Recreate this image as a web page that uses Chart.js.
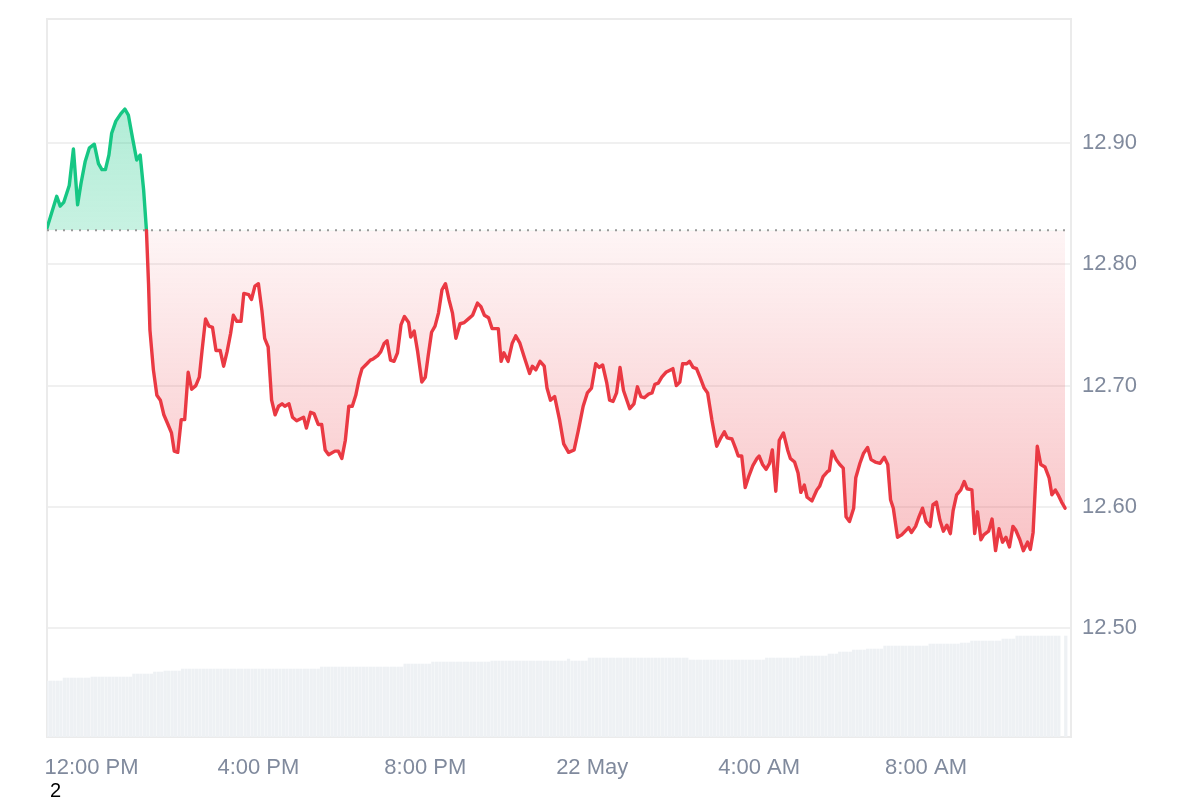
<!DOCTYPE html>
<html>
<head>
<meta charset="utf-8">
<script src="https://cdn.jsdelivr.net/npm/chart.js@4.4.1/dist/chart.umd.min.js"></script>
<style>
  html, body { margin: 0; padding: 0; background: #ffffff; overflow: hidden; }
  #wrap { position: relative; width: 1200px; height: 800px; }
  #c { display: block; }
  #note { position: absolute; left: 50px; top: 780px; font: 20px/20px "Liberation Sans", Arial, sans-serif; color: #000; }
</style>
</head>
<body>
<div id="wrap">
  <canvas id="c" width="1200" height="800"></canvas>
  <div id="note">2</div>
</div>
<script>
// ---- data (time in minutes since 21 May 00:00) ----
const startMinute = 656; // 10:56 AM, 21 May
const priceMinutes = [
  0,14,19,24,32,38,44,49,55,61,68,74,79,84,89,93,99,106,112,117,123,129,134,139,143,
  146,148,153,158,163,168,174,179,183,188,193,198,203,208,214,219,223,228,233,238,243,249,254,259,264,
  268,273,279,283,290,294,299,304,309,313,318,323,328,333,338,342,348,353,359,369,373,379,384,390,395,
  400,405,414,419,424,429,434,439,444,449,453,460,465,469,476,480,485,489,494,499,504,509,514,520,523,
  528,533,539,544,548,553,558,563,568,573,578,583,588,594,600,606,612,619,624,629,635,640,649,653,657,
  663,669,674,680,686,694,698,703,709,715,719,724,730,737,743,750,758,764,771,777,783,789,794,799,805,
  809,814,819,824,829,838,844,849,854,859,865,870,874,879,884,890,900,905,910,914,920,924,929,934,939,
  945,950,956,963,969,974,978,985,991,994,999,1004,1009,1015,1021,1024,1029,1034,1039,1043,1048,1053,1059,1065,1069,
  1075,1080,1084,1089,1093,1100,1107,1111,1116,1122,1125,1129,1135,1140,1145,1149,1154,1160,1163,1169,1174,1180,1185,1191,1198,
  1204,1209,1213,1217,1223,1229,1239,1243,1249,1254,1259,1264,1270,1274,1279,1284,1289,1294,1299,1303,1308,1314,1319,1323,1330,
  1334,1338,1343,1347,1354,1359,1364,1369,1374,1379,1384,1389,1393,1399,1404,1410,1414,1418,1424,1429,1435,1441,1445,1450,1454,
  1459,1464
];
const prices = [
  12.830,12.856,12.848,12.851,12.865,12.895,12.849,12.867,12.885,12.896,12.899,12.883,12.878,12.878,12.890,12.908,12.918,12.924,12.928,12.923,12.904,12.886,12.890,12.861,12.828,
  12.784,12.746,12.713,12.692,12.688,12.676,12.668,12.661,12.646,12.645,12.672,12.672,12.711,12.697,12.700,12.707,12.729,12.755,12.749,12.748,12.729,12.729,12.716,12.728,12.743,
  12.758,12.753,12.753,12.776,12.775,12.771,12.782,12.784,12.762,12.739,12.732,12.688,12.676,12.683,12.685,12.683,12.685,12.674,12.671,12.674,12.665,12.678,12.677,12.668,12.668,
  12.647,12.643,12.646,12.646,12.640,12.655,12.683,12.683,12.692,12.706,12.714,12.718,12.721,12.722,12.725,12.728,12.735,12.737,12.721,12.720,12.727,12.750,12.757,12.752,12.740,
  12.745,12.728,12.703,12.707,12.724,12.744,12.749,12.760,12.779,12.784,12.771,12.760,12.739,12.751,12.752,12.755,12.758,12.768,12.765,12.758,12.756,12.747,12.747,12.720,12.727,
  12.720,12.735,12.741,12.735,12.724,12.710,12.716,12.713,12.720,12.716,12.698,12.688,12.691,12.672,12.652,12.645,12.647,12.663,12.683,12.694,12.698,12.718,12.715,12.717,12.702,
  12.688,12.687,12.694,12.715,12.696,12.681,12.685,12.699,12.691,12.690,12.693,12.694,12.701,12.702,12.707,12.711,12.714,12.700,12.703,12.718,12.718,12.720,12.715,12.714,12.707,
  12.698,12.694,12.672,12.650,12.657,12.662,12.657,12.656,12.647,12.642,12.642,12.616,12.625,12.634,12.640,12.642,12.635,12.631,12.636,12.647,12.613,12.655,12.661,12.647,12.640,
  12.637,12.628,12.612,12.618,12.608,12.605,12.614,12.617,12.625,12.629,12.630,12.646,12.639,12.635,12.632,12.592,12.588,12.599,12.624,12.636,12.644,12.649,12.639,12.637,12.636,
  12.641,12.635,12.606,12.599,12.575,12.577,12.583,12.579,12.584,12.592,12.599,12.588,12.584,12.602,12.604,12.589,12.580,12.585,12.578,12.597,12.610,12.614,12.621,12.615,12.614,
  12.578,12.596,12.573,12.577,12.580,12.590,12.564,12.582,12.571,12.575,12.567,12.584,12.581,12.573,12.564,12.571,12.565,12.579,12.650,12.635,12.633,12.624,12.610,12.614,12.610,
  12.604,12.599
];
const baselinePrice = 12.828; // price 24h ago (dotted reference)
// 24h volume, one bar every 5 minutes from startMinute (millions)
const volumeStep = 5;
const volumes = [
  5.6,5.6,5.6,5.6,5.6,5.9,5.9,5.9,5.9,5.9,
  5.9,5.9,5.9,6.0,6.0,6.0,6.0,6.0,6.0,6.0,
  6.0,6.0,6.0,6.0,6.0,6.3,6.3,6.3,6.3,6.3,
  6.3,6.5,6.5,6.5,6.6,6.6,6.6,6.6,6.6,6.8,
  6.8,6.8,6.8,6.8,6.8,6.8,6.8,6.8,6.8,6.8,
  6.8,6.8,6.8,6.8,6.8,6.8,6.8,6.8,6.8,6.8,
  6.8,6.8,6.8,6.8,6.8,6.8,6.8,6.8,6.8,6.8,
  6.8,6.8,6.8,6.8,6.8,6.8,6.8,6.8,6.8,7.0,
  7.0,7.0,7.0,7.0,7.0,7.0,7.0,7.0,7.0,7.0,
  7.0,7.0,7.0,7.0,7.0,7.0,7.0,7.0,7.0,7.0,
  7.0,7.0,7.0,7.3,7.3,7.3,7.3,7.3,7.3,7.3,
  7.3,7.5,7.5,7.5,7.5,7.5,7.5,7.5,7.5,7.5,
  7.5,7.5,7.5,7.5,7.5,7.5,7.5,7.5,7.6,7.6,
  7.6,7.6,7.6,7.6,7.6,7.6,7.6,7.6,7.6,7.6,
  7.6,7.6,7.6,7.6,7.6,7.6,7.6,7.6,7.6,7.6,
  7.8,7.6,7.6,7.6,7.6,7.6,7.9,7.9,7.9,7.9,
  7.9,7.9,7.9,7.9,7.9,7.9,7.9,7.9,7.9,7.9,
  7.9,7.9,7.9,7.9,7.9,7.9,7.9,7.9,7.9,7.9,
  7.9,7.9,7.9,7.9,7.9,7.7,7.7,7.7,7.7,7.7,
  7.7,7.7,7.7,7.7,7.7,7.7,7.7,7.7,7.7,7.7,
  7.7,7.7,7.7,7.7,7.7,7.7,7.7,7.9,7.9,7.9,
  7.9,7.9,7.9,7.9,7.9,7.9,7.9,8.1,8.1,8.1,
  8.1,8.1,8.1,8.1,8.1,8.3,8.3,8.3,8.5,8.5,
  8.5,8.5,8.7,8.7,8.7,8.7,8.8,8.8,8.8,8.8,
  8.8,9.1,9.1,9.1,9.1,9.1,9.1,9.1,9.1,9.1,
  9.1,9.1,9.1,9.1,9.3,9.3,9.3,9.3,9.3,9.3,
  9.3,9.3,9.3,9.4,9.4,9.4,9.6,9.6,9.6,9.6,
  9.6,9.6,9.6,9.6,9.6,9.8,9.8,9.8,9.8,10.1,
  10.1,10.1,10.1,10.1,10.1,10.1,10.1,10.1,10.1,10.1,
  10.1,10.1,0,10.1
];
const xTickMinutes = [720, 960, 1200, 1440, 1680, 1920];
const xTickLabels = ['12:00 PM', '4:00 PM', '8:00 PM', '22 May', '4:00 AM', '8:00 AM'];
const priceTicks = [12.5, 12.6, 12.7, 12.8, 12.9];

// ---- styling ----
const GREEN = '#16c784';
const RED = '#ea3943';
const LABEL = '#808a9d';
const FONT = '"Liberation Sans", Arial, sans-serif';

const pricePoints = prices.map((p, i) => ({ x: startMinute + priceMinutes[i], y: p }));
const volumePoints = volumes.map((v, i) => ({ x: startMinute + i * volumeStep, y: v }));
const lastMinute = startMinute + priceMinutes[priceMinutes.length - 1];

const framePlugin = {
  id: 'frame',
  beforeDatasetsDraw(chart) {
    const { ctx, chartArea: a } = chart;
    ctx.save();
    ctx.strokeStyle = '#ebebeb';
    ctx.lineWidth = 2;
    ctx.strokeRect(a.left, a.top + 1, a.right - a.left, a.bottom - a.top - 1);
    ctx.restore();
  }
};

function fillSpec(ctx) {
  const chart = ctx.chart;
  const area = chart.chartArea;
  const y = chart.scales && chart.scales.y;
  if (!area || !y) {
    return { target: { value: baselinePrice }, above: 'rgba(22,199,132,0.27)', below: 'rgba(234,57,67,0.15)' };
  }
  const c = chart.ctx;
  const yBase = y.getPixelForValue(baselinePrice);
  const yTop = y.getPixelForValue(Math.max(...prices));
  const yLow = y.getPixelForValue(Math.min(...prices));
  const g = c.createLinearGradient(0, yTop, 0, yBase);
  g.addColorStop(0, 'rgba(22,199,132,0.33)');
  g.addColorStop(1, 'rgba(22,199,132,0.24)');
  const r = c.createLinearGradient(0, yBase, 0, yLow);
  r.addColorStop(0, 'rgba(234,57,67,0.05)');
  r.addColorStop(1, 'rgba(234,57,67,0.30)');
  return { target: { value: baselinePrice }, above: g, below: r };
}

new Chart(document.getElementById('c'), {
  type: 'line',
  data: {
    datasets: [
      {
        label: 'Reference',
        data: [{ x: startMinute, y: baselinePrice }, { x: lastMinute, y: baselinePrice }],
        yAxisID: 'y',
        borderColor: '#999999',
        borderWidth: 2,
        borderDash: [2, 6],
        pointRadius: 0,
        fill: false,
        order: -1
      },
      {
        label: 'Price',
        data: pricePoints,
        yAxisID: 'y',
        borderWidth: 3.4,
        borderColor: RED,
        segment: {
          borderColor: (s) => (s.p0.parsed.y >= baselinePrice && s.p1.parsed.y >= baselinePrice) ? GREEN : RED
        },
        tension: 0,
        pointRadius: 0,
        borderJoinStyle: 'round',
        borderCapStyle: 'round',
        fill: fillSpec,
        order: 0
      },
      {
        type: 'bar',
        label: 'Volume',
        data: volumePoints,
        yAxisID: 'yv',
        backgroundColor: '#eef1f4',
        barThickness: 2.6,
        grouped: false,
        order: 2
      }
    ]
  },
  options: {
    responsive: false,
    animation: false,
    devicePixelRatio: 1,
    layout: { padding: { left: 47, top: 18, right: 0, bottom: 0 } },
    plugins: { legend: { display: false }, tooltip: { enabled: false } },
    scales: {
      x: {
        type: 'linear',
        position: 'bottom',
        min: startMinute,
        max: startMinute + 1472.5,
        offset: false,
        grid: { display: false, drawTicks: false },
        border: { display: false },
        afterBuildTicks: (s) => { s.ticks = xTickMinutes.map(v => ({ value: v })); },
        afterFit: (s) => { s.height = 63; s.paddingLeft = 0; s.paddingRight = 0; },
        ticks: {
          autoSkip: false,
          maxRotation: 0,
          padding: 18,
          color: LABEL,
          font: { family: FONT, size: 22 },
          callback: (v) => xTickLabels[xTickMinutes.indexOf(v)]
        }
      },
      y: {
        type: 'linear',
        position: 'right',
        min: 12.4104,
        max: 13.003,
        grid: { color: '#f0f0f0', lineWidth: 2, drawTicks: false },
        border: { display: false },
        afterBuildTicks: (s) => { s.ticks = priceTicks.map(v => ({ value: v })); },
        afterFit: (s) => { s.width = 129; s.paddingTop = 0; s.paddingBottom = 0; },
        ticks: {
          padding: 11,
          color: LABEL,
          font: { family: FONT, size: 22 },
          callback: (v) => Number(v).toFixed(2)
        }
      },
      yv: {
        type: 'linear',
        display: false,
        min: 0,
        max: 71.9
      }
    }
  },
  plugins: [framePlugin]
});
</script>
</body>
</html>
